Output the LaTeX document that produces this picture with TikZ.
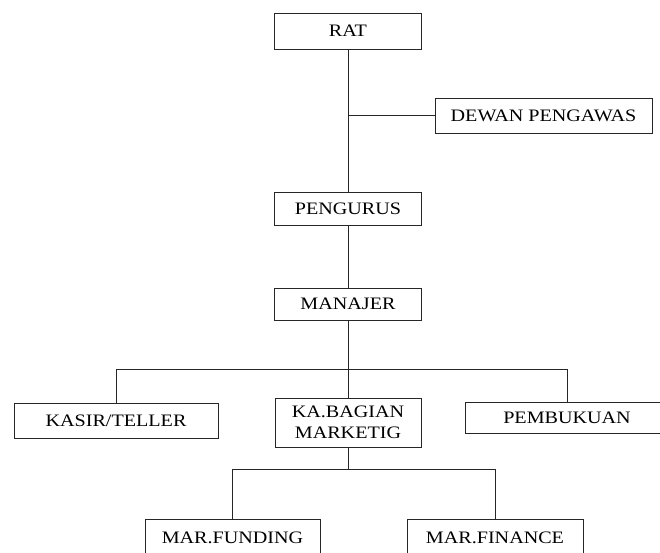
\documentclass[tikz,border=0pt]{standalone}
\usepackage{fontspec}
\setmainfont{Liberation Serif}[FakeStretch=1.15]
\usetikzlibrary{positioning}
\tikzset{
  orgbox/.style={
    draw=black!85,
    line width=0.8pt,
    align=center,
    inner sep=0pt,
    font=\fontsize{17.5}{21}\selectfont
  },
  orgline/.style={draw=black!85, line width=0.8pt}
}
\begin{document}
\begin{tikzpicture}[x=1pt,y=-1pt]
  \useasboundingbox (0,0) rectangle (660,552);
  \clip (0,0) rectangle (660,552);

  \node[orgbox,minimum width=147pt,minimum height=36pt] (rat) at (348,31) {RAT};
  \node[orgbox,minimum width=217pt,minimum height=35pt] (dewan) at (543.5,115.5) {DEWAN PENGAWAS};
  \node[orgbox,minimum width=147pt,minimum height=33pt] (pengurus) at (348,208.5) {PENGURUS};
  \node[orgbox,minimum width=147pt,minimum height=32pt] (manajer) at (348,304) {MANAJER};

  \node[orgbox,minimum width=204pt,minimum height=35pt] (kasir) at (116,420.5) {KASIR/TELLER};
  \node[orgbox,minimum width=146pt,minimum height=49pt] (kabag) at (348,422.5) {KA.BAGIAN\\MARKETIG};
  \node[orgbox,minimum width=204pt,minimum height=31pt] (pembukuan) at (567,417.5) {PEMBUKUAN};

  \node[orgbox,minimum width=175pt,minimum height=38pt] (funding) at (232.5,538) {MAR.FUNDING};
  \node[orgbox,minimum width=176pt,minimum height=38pt] (finance) at (495,538) {MAR.FINANCE};

  \coordinate (bar1) at (348,369);
  \coordinate (bar2) at (348,469);

  \draw[orgline] (rat) -- (pengurus);
  \draw[orgline] (rat |- dewan.west) -- (dewan.west);
  \draw[orgline] (pengurus) -- (manajer);
  \draw[orgline] (manajer) -- (kabag);
  \draw[orgline] (kasir.north) -- (kasir.north |- bar1) -- (pembukuan.north |- bar1) -- (pembukuan.north);
  \draw[orgline] (kabag.south) -- (bar2);
  \draw[orgline] (funding.north) -- (funding.north |- bar2) -- (finance.north |- bar2) -- (finance.north);
\end{tikzpicture}
\end{document}
